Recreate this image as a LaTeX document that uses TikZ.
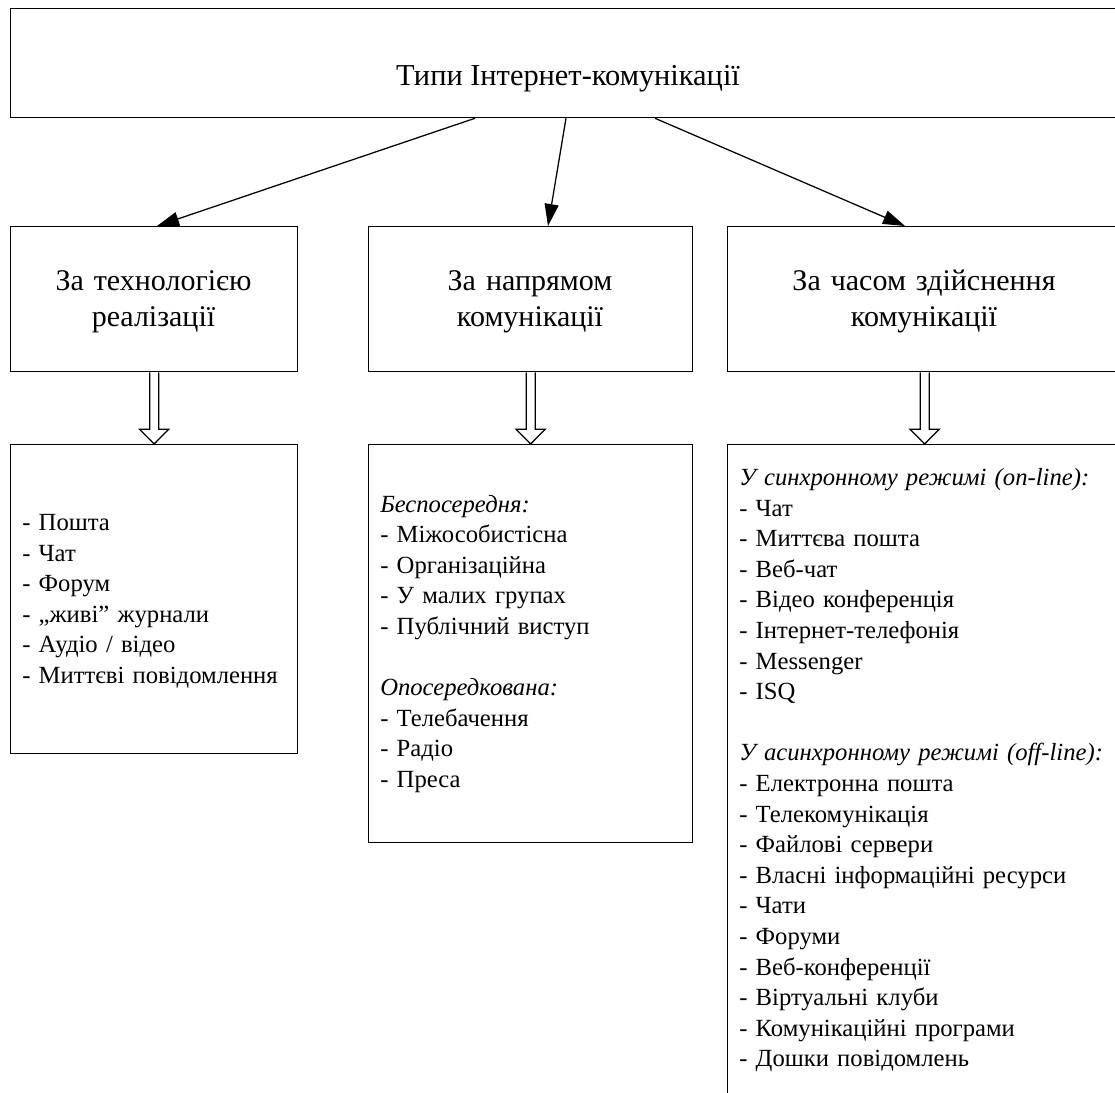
\documentclass[tikz,border=0pt]{standalone}
\usepackage{fontspec}
\setmainfont{Liberation Serif}
\usetikzlibrary{arrows.meta,calc}
\newcommand{\titlefont}{\fontsize{22.8pt}{28pt}\selectfont}
\newcommand{\rowfont}{\fontsize{22.5pt}{27.5pt}\selectfont}
\newcommand{\listfont}{\fontsize{18.5pt}{22.95pt}\selectfont}
\begin{document}
\begin{tikzpicture}[x=0.75pt,y=-0.75pt,
  box/.style={draw, line width=0.95pt, inner sep=0pt, anchor=north west},
  arr/.style={line width=0.95pt, -{Triangle[length=16.5pt,width=10.5pt]}},
  hollow/.style={draw, line width=0.95pt, fill=white},
  rowtext/.style={font=\rowfont, align=center, text width=280pt, anchor=base, inner sep=0pt},
  listtext/.style={font=\listfont, align=left, text width=290pt, anchor=base west, inner sep=0pt}]
\useasboundingbox (0,0) rectangle (1115,1093);
% boxes
\node[box, minimum width=1115*0.75pt, minimum height=109*0.75pt] (top) at (10,8) {};
\node[box, minimum width=287*0.75pt, minimum height=145*0.75pt] (c1) at (10,226) {};
\node[box, minimum width=324*0.75pt, minimum height=145*0.75pt] (c2) at (368,226) {};
\node[box, minimum width=394*0.75pt, minimum height=145*0.75pt] (c3) at (727,226) {};
\node[box, minimum width=287*0.75pt, minimum height=309*0.75pt] (l1) at (10,444) {};
\node[box, minimum width=324*0.75pt, minimum height=398*0.75pt] (l2) at (368,444) {};
\node[box, minimum width=394*0.75pt, minimum height=680*0.75pt] (l3) at (727,444) {};
% texts
\node[font=\titlefont, anchor=base, inner sep=0pt] (tt) at (568,85) {Типи Інтернет-комунікації};
\node[rowtext] (r1) at (153.5,290) {За технологією\\реалізації};
\node[rowtext] (r2) at (530,290) {За напрямом\\комунікації};
\node[rowtext] (r3) at (924,290) {За часом здійснення\\комунікації};
\node[listtext] (p1) at (22,530.5) {- Пошта\\- Чат\\- Форум\\- „живі” журнали\\- Аудіо / відео\\- Миттєві повідомлення};
\node[listtext] (p2) at (380,512) {\textit{Беспосередня:}\\- Міжособистісна\\- Організаційна\\- У малих групах\\- Публічний виступ\\[22.95pt]\textit{Опосередкована:}\\- Телебачення\\- Радіо\\- Преса};
\node[listtext] (p3) at (739,485.5) {\textit{У синхронному режимі (on-line):}\\- Чат\\- Миттєва пошта\\- Веб-чат\\- Відео конференція\\- Інтернет-телефонія\\- Messenger\\- ISQ\\[22.95pt]\textit{У асинхронному режимі (off-line):}\\- Електронна пошта\\- Телекомунікація\\- Файлові сервери\\- Власні інформаційні ресурси\\- Чати\\- Форуми\\- Веб-конференції\\- Віртуальні клуби\\- Комунікаційні програми\\- Дошки повідомлень};
% arrows
\draw[arr] ($(top.south west)+(465,0)$) -- ($(c1.north west)+(147,0)$);
\draw[arr] ($(top.south west)+(556,0)$) -- ($(c2.north west)+(180,0)$);
\draw[arr] ($(top.south west)+(645,0)$) -- ($(c3.north west)+(178,0)$);
% hollow arrows
\foreach \a/\b in {c1/l1, c2/l2, c3/l3}{
  \draw[hollow] ($(\a.south)+(-4.5,0)$) -- ($(\a.south)+(-4.5,57)$) -- ($(\a.south)+(-14.5,57)$)
    -- (\b.north) -- ($(\a.south)+(14.5,57)$) -- ($(\a.south)+(4.5,57)$) -- ($(\a.south)+(4.5,0)$);
}
\end{tikzpicture}
\end{document}
